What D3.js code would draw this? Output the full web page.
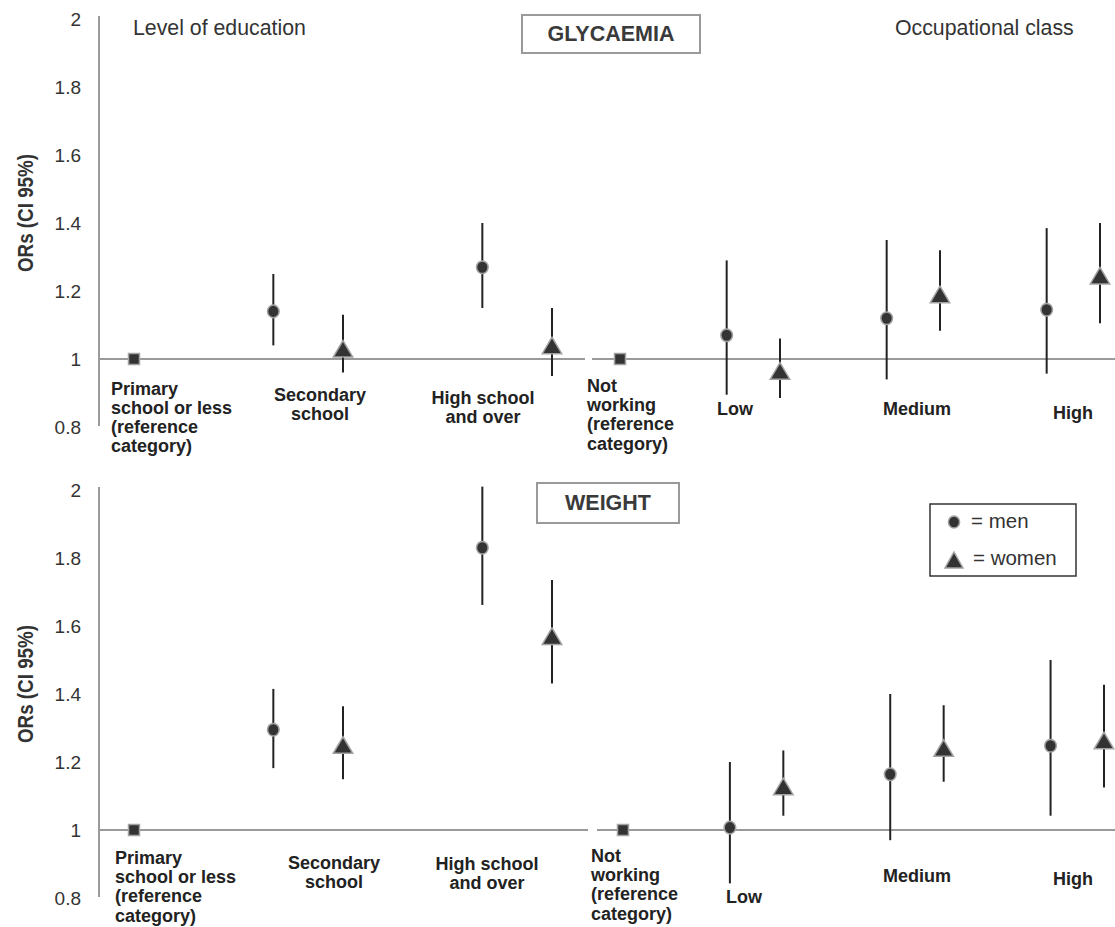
<!DOCTYPE html>
<html>
<head>
<meta charset="utf-8">
<script src="https://cdn.jsdelivr.net/npm/d3@7/dist/d3.min.js"></script>
<style>
  html, body { margin: 0; padding: 0; background: #fff; }
  svg { display: block; font-family: "Liberation Sans", Arial, Helvetica, sans-serif; }
</style>
</head>
<body>
<svg id="chart" width="1115" height="927"></svg>
<script>
// ---------------- DATA ----------------
const eduCategories = [["Primary", "school or less", "(reference", "category)"], ["Secondary", "school"], ["High school", "and over"]];
const occCategories = [["Not", "working", "(reference", "category)"], ["Low"], ["Medium"], ["High"]];
const yTicks = [0.8, 1, 1.2, 1.4, 1.6, 1.8, 2];
const panelTitles = ["GLYCAEMIA", "WEIGHT"];
const groupTitles = ["Level of education", "Occupational class"];
const legendLabels = ["= men", "= women"];
const referenceOR = 1;

// Glycaemia (non-reference categories)
const glyEduMen      = [1.14, 1.27];
const glyEduMenLo    = [1.04, 1.15];
const glyEduMenHi    = [1.25, 1.40];
const glyEduWomen    = [1.03, 1.04];
const glyEduWomenLo  = [0.96, 0.95];
const glyEduWomenHi  = [1.13, 1.15];
const glyOccMen      = [1.07, 1.12, 1.145];
const glyOccMenLo    = [0.895, 0.94, 0.957];
const glyOccMenHi    = [1.29, 1.35, 1.385];
const glyOccWomen    = [0.965, 1.19, 1.245];
const glyOccWomenLo  = [0.885, 1.083, 1.105];
const glyOccWomenHi  = [1.06, 1.32, 1.40];

// Weight (non-reference categories)
const wtEduMen      = [1.295, 1.83];
const wtEduMenLo    = [1.182, 1.662];
const wtEduMenHi    = [1.415, 2.01];
const wtEduWomen    = [1.25, 1.57];
const wtEduWomenLo  = [1.149, 1.431];
const wtEduWomenHi  = [1.364, 1.735];
const wtOccMen      = [1.007, 1.164, 1.248];
const wtOccMenLo    = [0.843, 0.97, 1.042];
const wtOccMenHi    = [1.20, 1.40, 1.50];
const wtOccWomen    = [1.128, 1.241, 1.263];
const wtOccWomenLo  = [1.042, 1.142, 1.125];
const wtOccWomenHi  = [1.234, 1.367, 1.427];

// ---------------- LAYOUT ----------------
const panels = [
  {
    title: panelTitles[0],
    yRange: [427, 19],
    eduRange: [134, 552], occRange: [620, 1100],
    baseSeg: [[99, 585], [592, 1115]],
    titleBox: { x0: 522, x1: 700, y0: 15, y1: 53 },
    showGroupTitles: true, showLegend: false,
    eduLabels: [{ x: 111, a: "start", y: 394.5 }, { x: 320, a: "middle", y: 401 }, { x: 483, a: "middle", y: 404 }],
    occLabels: [{ x: 587, a: "start", y: 392 }, { x: 735, a: "middle", y: 415 }, { x: 917, a: "middle", y: 415 }, { x: 1073, a: "middle", y: 419 }],
    data: {
      eduMen: [glyEduMen, glyEduMenLo, glyEduMenHi], eduWomen: [glyEduWomen, glyEduWomenLo, glyEduWomenHi],
      occMen: [glyOccMen, glyOccMenLo, glyOccMenHi], occWomen: [glyOccWomen, glyOccWomenLo, glyOccWomenHi]
    }
  },
  {
    title: panelTitles[1],
    yRange: [898, 490],
    eduRange: [134, 552], occRange: [623, 1104],
    baseSeg: [[99, 588], [597, 1115]],
    titleBox: { x0: 537, x1: 679, y0: 483, y1: 523 },
    showGroupTitles: false, showLegend: true,
    eduLabels: [{ x: 115, a: "start", y: 864 }, { x: 334, a: "middle", y: 869 }, { x: 487, a: "middle", y: 870 }],
    occLabels: [{ x: 591, a: "start", y: 862 }, { x: 744, a: "middle", y: 903 }, { x: 917, a: "middle", y: 882 }, { x: 1073, a: "middle", y: 885 }],
    data: {
      eduMen: [wtEduMen, wtEduMenLo, wtEduMenHi], eduWomen: [wtEduWomen, wtEduWomenLo, wtEduWomenHi],
      occMen: [wtOccMen, wtOccMenLo, wtOccMenHi], occWomen: [wtOccWomen, wtOccWomenLo, wtOccWomenHi]
    }
  }
];

const MARK_FILL = "#333333", MARK_STROKE = "#a3a3a3", BAR_COLOR = "#222222", AXIS_COLOR = "#9a9a9a";
const triPath = (w, h) => `M0,${-h / 2}L${w / 2},${h / 2}L${-w / 2},${h / 2}Z`;

const svg = d3.select("#chart");

// slot positions: reference at slot 0, category k men at 3k-1, women at 3k
const menSlot = k => 3 * (k + 1) - 1;
const womenSlot = k => 3 * (k + 1);

panels.forEach(p => {
  const g = svg.append("g");
  const y = d3.scaleLinear().domain([0.8, 2]).range(p.yRange);
  const xEdu = d3.scaleLinear().domain([0, 6]).range(p.eduRange);
  const xOcc = d3.scaleLinear().domain([0, 9]).range(p.occRange);

  // y axis (labels only) + custom axis line
  const axis = d3.axisLeft(y).tickValues(yTicks).tickSize(0).tickPadding(18).tickFormat(d3.format("~g"));
  const ag = g.append("g").attr("transform", "translate(99,0)").call(axis);
  ag.select(".domain").remove();
  ag.selectAll("text").attr("font-size", 19).attr("fill", "#333").attr("font-family", "Liberation Sans, Arial, sans-serif");
  g.append("line").attr("x1", 99).attr("x2", 99)
    .attr("y1", y(2) - 3).attr("y2", y(0.8) - 1)
    .attr("stroke", AXIS_COLOR).attr("stroke-width", 2);

  // y title
  const yMid = (p.yRange[0] + p.yRange[1]) / 2 - 10;
  g.append("text").attr("transform", `translate(33,${yMid}) scale(1.15,1) rotate(-90)`)
    .attr("text-anchor", "middle").attr("font-size", 18.8).attr("font-weight", "bold").attr("fill", "#333")
    .text("ORs (CI 95%)");

  // baseline at OR = 1
  p.baseSeg.forEach(s => {
    g.append("line").attr("x1", s[0]).attr("x2", s[1]).attr("y1", y(1)).attr("y2", y(1))
      .attr("stroke", AXIS_COLOR).attr("stroke-width", 2);
  });

  // title box
  const tb = p.titleBox;
  g.append("rect").attr("x", tb.x0).attr("y", tb.y0).attr("width", tb.x1 - tb.x0).attr("height", tb.y1 - tb.y0)
    .attr("fill", "#fff").attr("stroke", "#9a9a9a").attr("stroke-width", 2);
  g.append("text").attr("x", (tb.x0 + tb.x1) / 2).attr("y", (tb.y0 + tb.y1) / 2 + 7)
    .attr("text-anchor", "middle").attr("font-size", 21.5).attr("font-weight", "bold").attr("fill", "#3a3a3a")
    .text(p.title);

  if (p.showGroupTitles) {
    g.append("text").attr("x", 133).attr("y", 35).attr("font-size", 21.3).attr("fill", "#333").text(groupTitles[0]);
    g.append("text").attr("x", 895).attr("y", 35).attr("font-size", 21.3).attr("fill", "#333").text(groupTitles[1]);
  }

  // build point records
  const pts = [];
  const add = (arr, xs, slotFn, sex) => {
    arr[0].forEach((v, i) => pts.push({ x: xs(slotFn(i)), or: v, lo: arr[1][i], hi: arr[2][i], sex }));
  };
  add(p.data.eduMen, xEdu, menSlot, "m");
  add(p.data.eduWomen, xEdu, womenSlot, "w");
  add(p.data.occMen, xOcc, menSlot, "m");
  add(p.data.occWomen, xOcc, womenSlot, "w");

  // error bars
  g.selectAll(".ci").data(pts).enter().append("line")
    .attr("x1", d => d.x).attr("x2", d => d.x)
    .attr("y1", d => y(d.hi)).attr("y2", d => y(d.lo))
    .attr("stroke", BAR_COLOR).attr("stroke-width", 2);

  // reference squares
  [xEdu(0), xOcc(0)].forEach(cx => {
    g.append("rect").attr("x", cx - 5.5).attr("y", y(referenceOR) - 5.5).attr("width", 11).attr("height", 11)
      .attr("fill", MARK_FILL).attr("stroke", MARK_STROKE).attr("stroke-width", 1.5);
  });

  // men circles
  g.selectAll(".men").data(pts.filter(d => d.sex === "m")).enter().append("ellipse")
    .attr("cx", d => d.x).attr("cy", d => y(d.or)).attr("rx", 5.8).attr("ry", 6.3)
    .attr("fill", MARK_FILL).attr("stroke", MARK_STROKE).attr("stroke-width", 1.5);

  // women triangles
  g.selectAll(".women").data(pts.filter(d => d.sex === "w")).enter().append("path")
    .attr("transform", d => `translate(${d.x},${y(d.or)})`)
    .attr("d", triPath(19.5, 16.5))
    .attr("fill", MARK_FILL).attr("stroke", MARK_STROKE).attr("stroke-width", 1.5);

  // category labels
  const drawLabels = (cats, lay) => {
    cats.forEach((lines, i) => {
      const L = lay[i];
      const t = g.append("text").attr("x", L.x).attr("y", L.y).attr("text-anchor", L.a)
        .attr("font-size", 18).attr("font-weight", "bold").attr("fill", "#222");
      lines.forEach((ln, j) => t.append("tspan").attr("x", L.x).attr("dy", j === 0 ? 0 : 19.2).text(ln));
    });
  };
  drawLabels(eduCategories, p.eduLabels);
  drawLabels(occCategories, p.occLabels);

  // legend
  if (p.showLegend) {
    g.append("rect").attr("x", 930).attr("y", 504).attr("width", 146).attr("height", 72)
      .attr("fill", "#fff").attr("stroke", "#333").attr("stroke-width", 1.5);
    g.append("ellipse").attr("cx", 954).attr("cy", 522).attr("rx", 5.6).attr("ry", 6)
      .attr("fill", MARK_FILL).attr("stroke", MARK_STROKE).attr("stroke-width", 1.5);
    g.append("path").attr("transform", "translate(954,560)").attr("d", triPath(18, 16))
      .attr("fill", MARK_FILL).attr("stroke", MARK_STROKE).attr("stroke-width", 1.5);
    g.append("text").attr("x", 971).attr("y", 528).attr("font-size", 20.5).attr("fill", "#333").text(legendLabels[0]);
    g.append("text").attr("x", 973).attr("y", 565).attr("font-size", 20.5).attr("fill", "#333").text(legendLabels[1]);
  }
});
</script>
</body>
</html>
